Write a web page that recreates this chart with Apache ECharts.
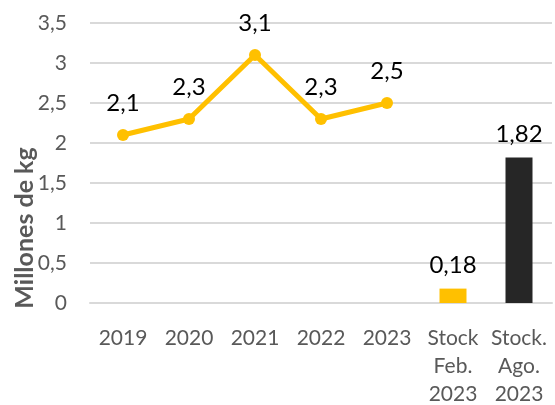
<!DOCTYPE html>
<html>
<head>
<meta charset="utf-8">
<script src="https://cdn.jsdelivr.net/npm/echarts@6/dist/echarts.min.js"></script>
<style>
  html, body { margin: 0; padding: 0; background: #fff; }
  #chart { width: 555px; height: 405px; }
</style>
</head>
<body>
<div id="chart"></div>
<script>
// Categories along the horizontal axis
const categories = ['2019', '2020', '2021', '2022', '2023', 'Stock\nFeb.\n2023', 'Stock.\nAgo.\n2023'];
// Yearly production (millones de kg)
const yearlyValues = [2.1, 2.3, 3.1, 2.3, 2.5, null, null];
// Stock levels in 2023
const stockValues = [null, null, null, null, null, 0.18, 1.82];
const stockColors = ['#FFC000', '#262626'];
// Y axis ticks
const yMin = 0, yMax = 3.5, yStep = 0.5;

const fontFamily = 'Lato, "Open Sans", sans-serif';
const comma = v => String(v).replace('.', ',');

const chart = echarts.init(document.getElementById('chart'));
let stockIdx = 0;
chart.setOption({
  animation: false,
  textStyle: { fontFamily },
  grid: { left: 90, right: 3, top: 23, bottom: 102, containLabel: false, outerBoundsMode: 'none' },
  xAxis: {
    type: 'category',
    data: categories,
    axisLine: { show: true, lineStyle: { color: '#d9d9d9', width: 2 } },
    axisTick: { show: false },
    axisLabel: { color: '#595959', fontSize: 21, lineHeight: 28, margin: 21, interval: 0, fontFamily }
  },
  yAxis: {
    type: 'value',
    min: yMin, max: yMax, interval: yStep,
    axisLine: { show: false },
    axisTick: { show: false },
    splitLine: { lineStyle: { color: '#d9d9d9', width: 2 } },
    axisLabel: { color: '#595959', fontSize: 21, margin: 23, padding: [4, 0, 0, 0], formatter: comma, fontFamily }
  },
  graphic: [{
    type: 'text',
    x: 25, y: 228,
    rotation: Math.PI / 2,
    style: {
      text: 'Millones de kg',
      fill: '#595959',
      font: 'bold 25px ' + fontFamily,
      textAlign: 'center',
      textVerticalAlign: 'middle'
    }
  }],
  series: [
    {
      type: 'line',
      data: yearlyValues,
      connectNulls: false,
      symbol: 'circle',
      symbolSize: 12,
      itemStyle: { color: '#FFC000' },
      lineStyle: { color: '#FFC000', width: 5 },
      label: {
        show: true, position: 'top', distance: 14,
        color: '#000', fontSize: 24, fontFamily,
        formatter: p => comma(p.value)
      },
      z: 3
    },
    {
      type: 'bar',
      data: stockValues.map(v => v == null ? null : { value: v, itemStyle: { color: stockColors[stockIdx++] } }),
      barWidth: 27,
      label: {
        show: true, position: 'top', distance: 11,
        color: '#000', fontSize: 24, fontFamily,
        formatter: p => comma(p.value)
      }
    }
  ]
});
</script>
</body>
</html>
